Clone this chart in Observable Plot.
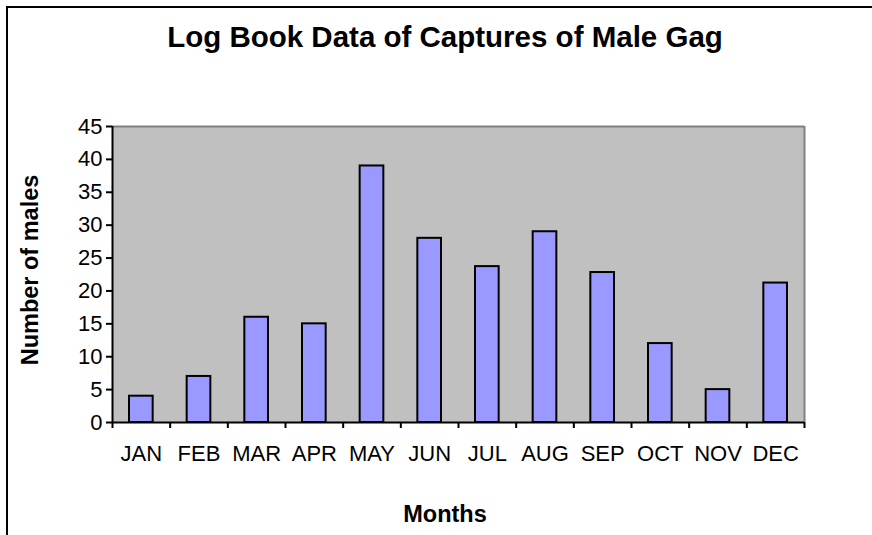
<!DOCTYPE html>
<html><head><meta charset="utf-8">
<script src="https://cdn.jsdelivr.net/npm/d3@7"></script>
<script src="https://cdn.jsdelivr.net/npm/@observablehq/plot@0.6"></script>
<style>
body{margin:0;background:#fff;}
#wrap{position:relative;width:872px;height:535px;overflow:hidden;font-family:"Liberation Sans",Arial,sans-serif;color:#000;}
#border{position:absolute;left:6px;top:6px;width:900px;height:600px;border-left:2px solid #000;border-top:2px solid #000;}
#title{position:absolute;left:0;width:890px;top:22px;text-align:center;font-weight:bold;font-size:29.5px;line-height:1;white-space:nowrap;}
#ylab{position:absolute;left:31px;top:270px;transform:translate(-50%,-50%) rotate(-90deg);font-weight:bold;font-size:23.5px;white-space:nowrap;line-height:1;}
#xlab{position:absolute;left:0;width:890px;top:503px;text-align:center;font-weight:bold;font-size:23.5px;line-height:1;}
#chart{position:absolute;left:0;top:0;}
</style></head>
<body>
<div id="wrap">
  <div id="border"></div>
  <div id="chart"></div>
  <div id="title">Log Book Data of Captures of Male Gag</div>
  <div id="ylab">Number of males</div>
  <div id="xlab">Months</div>
</div>
<script>
const months = ["JAN","FEB","MAR","APR","MAY","JUN","JUL","AUG","SEP","OCT","NOV","DEC"];
const males = [4, 7, 16, 15, 39, 28, 23.7, 29, 22.8, 12, 5, 21.2];
const yTicks = [0, 5, 10, 15, 20, 25, 30, 35, 40, 45];

const data = months.map((m, i) => ({i, month: m, value: males[i]}));
const slotEdges = d3.range(months.length + 1);
const slotCenters = months.map((m, i) => i + 0.5);

const chart = Plot.plot({
  width: 872,
  height: 535,
  marginLeft: 112,
  marginRight: 68,
  marginTop: 126,
  marginBottom: 113,
  x: {domain: [0, months.length]},
  y: {domain: [0, 45]},
  style: {fontFamily: "'Liberation Sans', Arial, sans-serif", fontSize: "22px", color: "#000", background: "transparent"},
  marks: [
    Plot.frame({fill: "#C0C0C0"}),
    Plot.ruleY([45], {stroke: "#808080", strokeWidth: 2}),
    Plot.ruleX([months.length], {stroke: "#808080", strokeWidth: 2}),
    Plot.rect(data, {
      x1: "i", x2: d => d.i + 1, y1: d => 0, y2: "value",
      insetLeft: 17, insetRight: 17,
      fill: "#9999FF", stroke: "#000", strokeWidth: 2
    }),
    Plot.ruleX([0], {stroke: "#000", strokeWidth: 2}),
    Plot.ruleY([0], {stroke: "#000", strokeWidth: 2}),
    Plot.axisY({ticks: yTicks, tickSize: 6, tickPadding: 4, label: null, fontSize: 22, strokeWidth: 2, strokeOpacity: 1}),
    Plot.axisX({ticks: slotEdges, tickSize: 6, tickFormat: () => "", label: null, strokeWidth: 2, strokeOpacity: 1}),
    Plot.axisX({ticks: slotCenters, tickSize: 0, tickPadding: 23, tickFormat: d => months[Math.floor(d)], label: null, fontSize: 22})
  ]
});
document.getElementById("chart").appendChild(chart);
</script>
</body></html>
